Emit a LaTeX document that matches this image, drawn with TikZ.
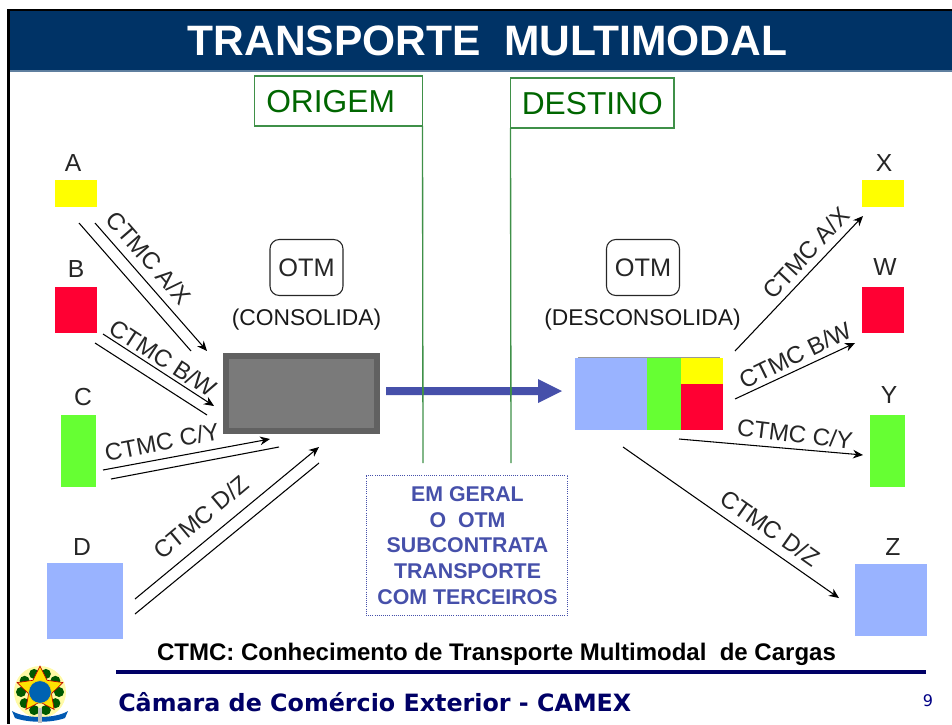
\documentclass[tikz,border=0pt]{standalone}
\usepackage{fontspec}
\setmainfont{Liberation Sans}
\newfontfamily\verd{DejaVu Sans}
\usetikzlibrary{shapes.geometric,arrows.meta}
\definecolor{hdr}{HTML}{003366}
\definecolor{hdredge}{HTML}{5F7F9F}
\definecolor{cyel}{HTML}{FFFF00}
\definecolor{cred}{HTML}{FF0033}
\definecolor{cgrn}{HTML}{66FF33}
\definecolor{cblu}{HTML}{99B3FF}
\definecolor{lgrn}{HTML}{3F9048}
\definecolor{tgrn}{HTML}{006600}
\definecolor{pur}{HTML}{4650AA}
\definecolor{navy2}{HTML}{000066}
\definecolor{ink}{HTML}{262626}
\newcommand{\pxs}[2]{\fontsize{#1}{#2}\selectfont}
\tikzset{
 cargo/.style={inner sep=0,outer sep=0,anchor=north west,draw=none},
 lab/.style={inner sep=0,outer sep=0,text=ink,font=\pxs{18.5pt}{22pt}},
 ctmc/.style={inner sep=0,outer sep=0,text=ink,font=\pxs{18pt}{21pt}},
 otm/.style={draw=ink,line width=0.8pt,rounded corners=7pt,inner sep=0,outer sep=0,minimum width=54.75pt,minimum height=42pt,text=ink,font=\pxs{19pt}{22pt}},
 sub/.style={inner sep=0,outer sep=0,text=black!90,font=\pxs{17.1pt}{20pt}},
 place/.style={draw=lgrn,line width=0.9pt,inner sep=0,outer sep=0,anchor=north west},
 placet/.style={anchor=west,inner sep=0,text=tgrn,font=\pxs{23.8pt}{28pt}},
 frontier/.style={draw=lgrn,line width=1pt},
 flow/.style={draw=black,line width=0.8pt,-{Stealth[length=7.5pt,width=6.5pt]}},
 plain/.style={draw=black,line width=0.8pt},
}
\begin{document}
\begin{tikzpicture}[x=0.75pt,y=-0.75pt]
\useasboundingbox (0,0) rectangle (952,724);
% frame and header
\fill[black] (7,9) rectangle (952,11);
\fill[black] (7,9) rectangle (9.5,724);
\fill[hdr] (9.5,11) rectangle (952,70.5);
\fill[hdredge] (9.5,70.5) rectangle (952,72);
\node[inner sep=0,text=white,font=\bfseries\pxs{31.9pt}{36pt}] (title) at (487.5,41) {TRANSPORTE\ \ MULTIMODAL};
% places
\node[place,minimum width=126pt,minimum height=37.5pt] (orig) at (254.5,76) {};
\node[placet] (origt) at (266,102) {ORIGEM};
\node[place,minimum width=122.6pt,minimum height=37.5pt] (dest) at (510.5,78) {};
\node[placet] (destt) at (521.5,104) {DESTINO};
\coordinate (fo) at (423,463);
\coordinate (fd) at (511,463);
\draw[frontier] (orig.south east) -- (fo);
\draw[frontier] (dest.south west) -- (fd);
% sources
\node[cargo,fill=cyel,minimum width=31.5pt,minimum height=20.25pt] (A) at (55,180) {};
\node[cargo,fill=cred,minimum width=31.5pt,minimum height=34.5pt] (B) at (55,287) {};
\node[cargo,fill=cgrn,minimum width=26.25pt,minimum height=54pt] (C) at (61,415) {};
\node[cargo,fill=cblu,minimum width=57pt,minimum height=57pt] (D) at (47,563) {};
\node[lab] (Al) at (73,163) {A};
\node[lab] (Bl) at (76,269) {B};
\node[lab] (Cl) at (83,397) {C};
\node[lab] (Dl) at (82,547) {D};
% destinations
\node[cargo,fill=cyel,minimum width=31.5pt,minimum height=20.25pt] (X) at (862,180) {};
\node[cargo,fill=cred,minimum width=31.5pt,minimum height=34.5pt] (W) at (862,287) {};
\node[cargo,fill=cgrn,minimum width=26.25pt,minimum height=54pt] (Y) at (870,415) {};
\node[cargo,fill=cblu,minimum width=54pt,minimum height=54pt] (Z) at (855,564) {};
\node[lab] (Xl) at (884,163) {X};
\node[lab] (Wl) at (885,267) {W};
\node[lab] (Yl) at (889,395) {Y};
\node[lab] (Zl) at (893,547) {Z};
% OTM
\node[otm] (otma) at (306.5,267.5) {OTM};
\node[otm] (otmb) at (643,267.5) {OTM};
\node[sub] (cons) at (306.5,319.5) {(CONSOLIDA)};
\node[sub] (desc) at (642.5,319.5) {(DESCONSOLIDA)};
% container
\node[cargo,fill=black!62,minimum width=117.75pt,minimum height=60.75pt] (box) at (223,353) {};
\node[cargo,fill=black!52,minimum width=108.75pt,minimum height=51.75pt] (boxin) at (229,359) {};
% deconsolidated stack
\draw[black!40,line width=0.6pt] (578,357.3) -- (720,357.3);
\node[cargo,fill=cblu,minimum width=54pt,minimum height=54pt] (s1) at (575,358) {};
\node[cargo,fill=cgrn,minimum width=25.5pt,minimum height=54pt] (s2) at (647,358) {};
\node[cargo,fill=cyel,minimum width=31.5pt,minimum height=19.5pt] (s3) at (681,358) {};
\node[cargo,fill=cred,minimum width=31.5pt,minimum height=34.5pt] (s4) at (681,384) {};
% big arrow
\fill[pur] (386,387) -- (538,387) -- (538,379) -- (562,391) -- (538,403) -- (538,395) -- (386,395) -- cycle;
\draw[frontier] (423,387) -- (423,395);
\draw[frontier] (511,387) -- (511,395);
% flow end points
\coordinate (a1s) at (95,223); \coordinate (a1e) at (207,351);
\coordinate (a2s) at (79,223); \coordinate (a2e) at (191,351);
\coordinate (b1s) at (103,334); \coordinate (b1e) at (214,406);
\coordinate (b2s) at (95,343); \coordinate (b2e) at (207,415);
\coordinate (c1s) at (103,470); \coordinate (c1e) at (270,439);
\coordinate (c2s) at (111,479); \coordinate (c2e) at (279,447);
\coordinate (d1s) at (135,599); \coordinate (d1e) at (319,447);
\coordinate (d2s) at (135,614); \coordinate (d2e) at (319,463);
\coordinate (xs) at (735,351); \coordinate (xe) at (863,216);
\coordinate (ws) at (735,399); \coordinate (we) at (855,343);
\coordinate (ys) at (679,439); \coordinate (ye) at (863,455);
\coordinate (zs) at (623,447); \coordinate (ze) at (839,598);
\draw[flow] (a1s) -- (a1e);
\draw[plain] (a2s) -- (a2e);
\draw[flow] (b1s) -- (b1e);
\draw[plain] (b2s) -- (b2e);
\draw[flow] (c1s) -- (c1e);
\draw[plain] (c2s) -- (c2e);
\draw[flow] (d1s) -- (d1e);
\draw[plain] (d2s) -- (d2e);
\draw[flow] (xs) -- (xe);
\draw[flow] (ws) -- (we);
\draw[flow] (ys) -- (ye);
\draw[flow] (zs) -- (ze);
% flow labels
\node[ctmc,rotate=-49] (la) at (149,258) {CTMC A/X};
\node[ctmc,rotate=-33] (lb) at (163,358) {CTMC B/W};
\node[ctmc,rotate=11] (lc) at (162,442) {CTMC C/Y};
\node[ctmc,rotate=40] (ld) at (201,517) {CTMC D/Z};
\node[ctmc,rotate=47] (lx) at (806,253) {CTMC A/X};
\node[ctmc,rotate=26] (lw) at (795,355) {CTMC B/W};
\node[ctmc,rotate=-7] (ly) at (795,434) {CTMC C/Y};
\node[ctmc,rotate=-35] (lz) at (770,528) {CTMC D/Z};
% note box
\node[cargo,draw=pur,densely dotted,line width=0.6pt,minimum width=151pt,minimum height=105pt] (note) at (366,475) {};
\node[inner sep=0,text=pur,align=center,font=\bfseries\pxs{16pt}{19.3pt}] (notet) at (467.5,545.5) {EM GERAL\\O\ \ OTM\\SUBCONTRATA\\TRANSPORTE\\COM TERCEIROS};
% footer
\node[inner sep=0,text=black,font=\bfseries\pxs{18pt}{21pt}] (legend) at (496.5,654) {CTMC: Conhecimento de Transporte Multimodal\ \ de Cargas};
\fill[navy2] (116,670) rectangle (926,674);
\node[anchor=west,inner sep=0,text=navy2,font=\verd\bfseries\pxs{17.85pt}{22pt}] (camex) at (118,702) {Câmara de Comércio Exterior - CAMEX};
\node[inner sep=0,text=navy2!80!blue,font=\verd\pxs{12pt}{14pt}] (page) at (928,701) {9};
% emblem
\fill[yellow!35] (40,692) circle (26);
\foreach \a in {0,36,...,324}{\fill[green!35!black] (40,692) ++(\a:19) circle (5);}
\node[star,star points=5,star point ratio=2.0,fill=yellow!85!orange,draw=red!75!black,line width=0.5pt,minimum size=36pt,inner sep=0] (estar) at (40,690) {};
\node[circle,fill=blue!45!cyan!70!black,draw=yellow!70!orange,line width=0.5pt,minimum size=17pt,inner sep=0] (edisc) at (40,692) {};
\fill[blue!50!cyan!70!black] (12,711) .. controls (25,719) and (55,719) .. (68,711) -- (65,718) .. controls (52,723) and (28,723) .. (15,718) -- cycle;
\fill[black!25] (38,708) rectangle (42,723);
\end{tikzpicture}
\end{document}
